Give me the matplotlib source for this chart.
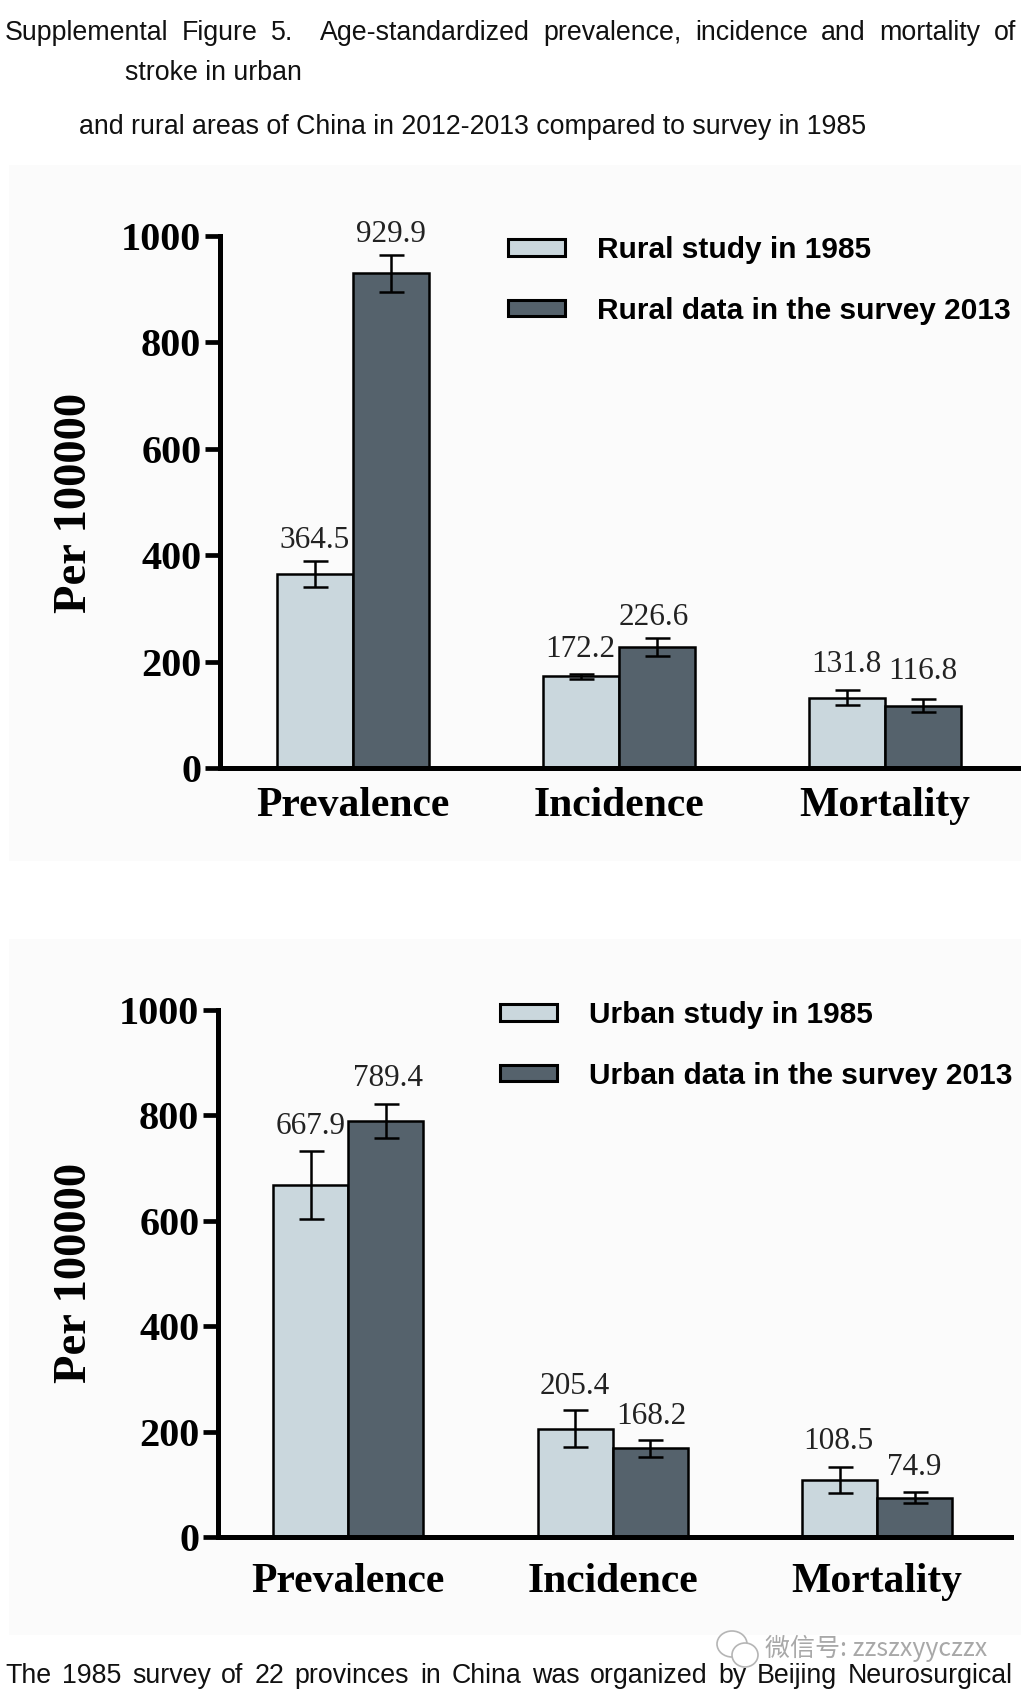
import matplotlib
matplotlib.use('Agg')
import matplotlib.pyplot as plt
import numpy as np
from matplotlib.patches import Rectangle, Ellipse, Patch

W, H = 1021, 1696

categories = ['Prevalence', 'Incidence', 'Mortality']
yticks = [0, 200, 400, 600, 800, 1000]

rural_1985 = [364.5, 172.2, 131.8]
rural_2013 = [929.9, 226.6, 116.8]
rural_1985_err = [25, 5, 14]
rural_2013_err = [35, 17, 12]

urban_1985 = [667.9, 205.4, 108.5]
urban_2013 = [789.4, 168.2, 74.9]
urban_1985_err = [64, 35, 25]
urban_2013_err = [33, 16, 10]

light = '#cad7dd'
dark = '#55626c'
panel_bg = '#fbfbfb'
sans = 'Liberation Sans'
serif = 'Liberation Serif'
doc_size = 19.3

fig = plt.figure(figsize=(W / 100, H / 100), dpi=100, facecolor='white')


def fx(x):
    return x / W


def fy(y):
    return 1 - y / H


def justified(text, x0, x1, y, size):
    # the document text is justified, so the gaps get spread out word by word
    renderer = fig.canvas.get_renderer()
    words = text.split(' ')
    items = [fig.text(0, fy(y), w, family=sans, fontsize=size, va='center', color='#111111') if w else None
             for w in words]
    widths = [i.get_window_extent(renderer).width if i else 0 for i in items]
    gap = (x1 - x0 - sum(widths)) / (len(words) - 1)
    x = x0
    for i, w in zip(items, widths):
        if i:
            i.set_x(fx(x))
        x += w + gap


def panel(bg_top, bg_bottom, left, right, top, bottom, centre0, spacing, width,
          v1, v2, e1, e2, labels, legend_x, legend_y, ylabel_y, cat_pad, label_off):
    fig.add_artist(Rectangle((fx(9), fy(bg_bottom)), fx(W - 9), (bg_bottom - bg_top) / H,
                             transform=fig.transFigure, color=panel_bg, lw=0, zorder=-5))
    ax = fig.add_axes([fx(left), fy(bottom), (right - left) / W, (bottom - top) / H])
    ax.patch.set_alpha(0)
    bw = width / spacing
    x = np.arange(3)
    err_kw = dict(ecolor='black', elinewidth=1.8, capsize=9, capthick=1.8)
    ax.bar(x - bw / 2, v1, bw, color=light, edgecolor='black', linewidth=1.8,
           yerr=e1, error_kw=err_kw, label=labels[0])
    ax.bar(x + bw / 2, v2, bw, color=dark, edgecolor='black', linewidth=1.8,
           yerr=e2, error_kw=err_kw, label=labels[1])
    ax.set_xlim((left - centre0) / spacing, (right - centre0) / spacing)
    ax.set_ylim(0, 1000)
    for sp in ['top', 'right']:
        ax.spines[sp].set_visible(False)
    for sp in ['left', 'bottom']:
        ax.spines[sp].set_linewidth(3.6)
    ax.set_yticks(yticks)
    ax.set_yticklabels([str(t) for t in yticks], family=serif, fontweight='bold', fontsize=29)
    ax.tick_params(axis='y', length=11, width=3.4, pad=2.5)
    ax.set_xticks(x)
    ax.set_xticklabels(categories, family=serif, fontweight='bold', fontsize=30)
    ax.tick_params(axis='x', length=0, pad=cat_pad)

    for k in range(3):
        for xx, v, e, off in [(x[k] - bw / 2, v1[k], e1[k], label_off[k][0]),
                              (x[k] + bw / 2, v2[k], e2[k], label_off[k][1])]:
            ax.annotate('%.1f' % v, (xx, v + e), xytext=(off[0], 19 + off[1]), textcoords='offset points',
                        ha='center', va='center', family=serif, fontsize=22.5, color='#222222')

    fig.text(fx(75), fy(ylabel_y), 'Per 100000', rotation=90, family=serif, fontweight='bold',
             fontsize=33.5, ha='center', va='center')

    handles = [Patch(facecolor=light, edgecolor='black', linewidth=2.2),
               Patch(facecolor=dark, edgecolor='black', linewidth=2.2)]
    fig.legend(handles, labels, loc='upper left', bbox_to_anchor=(fx(legend_x), fy(legend_y)),
               frameon=False, handlelength=1.9, handleheight=0.47, handletextpad=1.08,
               labelspacing=1.1, borderpad=0, borderaxespad=0,
               prop=dict(family=sans, weight='bold', size=21.5))
    return ax


justified('Supplemental Figure 5.  Age-standardized prevalence, incidence and mortality of', 5, 1016, 33, doc_size)
fig.text(fx(125), fy(73), 'stroke in urban', family=sans, fontsize=doc_size, va='center', color='#111111')
fig.text(fx(79), fy(127), 'and rural areas of China in 2012-2013 compared to survey in 1985',
         family=sans, fontsize=doc_size, va='center', color='#111111')

panel(165, 861, 220, 1020, 236, 768, 352.5, 266, 76,
      rural_1985, rural_2013, rural_1985_err, rural_2013_err,
      ['Rural study in 1985', 'Rural data in the survey 2013'],
      508, 236, 503, 14,
      [[(0, -4.5), (0, -4.5)], [(0, -1.5), (-2, -4)], [(0, 0), (0, 1)]])

panel(939, 1635, 218, 1011, 1010, 1537, 348, 264.5, 75,
      urban_1985, urban_2013, urban_1985_err, urban_2013_err,
      ['Urban study in 1985', 'Urban data in the survey 2013'],
      500, 1001, 1273, 19,
      [[(0, -1), (2, -1)], [(0, -1.5), (1, -2)], [(-1, -1), (0, -1)]])

# watermark
for cx, cy, w, h in [(732, 1644, 30, 26), (745, 1655, 26, 24)]:
    fig.add_artist(Ellipse((fx(cx), fy(cy)), w / W, h / H, transform=fig.transFigure,
                           facecolor='white', edgecolor='#b5b5b5', linewidth=1.2))
fig.text(fx(765), fy(1648), '微信号: zzszxyyczzx', family=['Noto Sans CJK SC', 'DejaVu Sans'],
         fontsize=18, va='center', color='#a8a8a8', style='italic')

justified('The 1985 survey of 22 provinces in China was organized by Beijing Neurosurgical', 5, 1013, 1676, doc_size)

fig.savefig('out.png', dpi=100)
